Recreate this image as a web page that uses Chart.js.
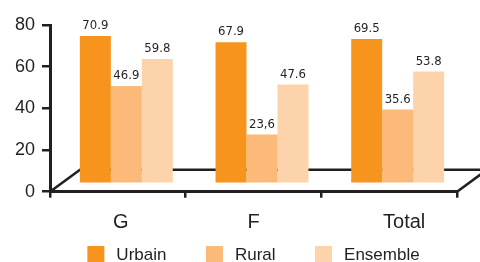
<!DOCTYPE html>
<html>
<head>
<meta charset="utf-8">
<script src="https://cdn.jsdelivr.net/npm/chart.js@4.4.1/dist/chart.umd.min.js"></script>
<style>
  html, body { margin: 0; padding: 0; background: #fff; }
  #wrap { width: 480px; height: 262px; position: relative; }
</style>
</head>
<body>
<div id="wrap"><canvas id="chart"></canvas></div>
<script>
// Categories and series (percent)
const categories = ['G', 'F', 'Total'];
const urbain = [70.9, 67.9, 69.5];
const rural = [46.9, 23.6, 35.6];
const ensemble = [59.8, 47.6, 53.8];

// Labels printed above the bars (the source prints "23,6" with a comma)
const urbainText = ['70.9', '67.9', '69.5'];
const ruralText = ['46.9', '23,6', '35.6'];
const ensembleText = ['59.8', '47.6', '53.8'];

const yTicks = [0, 20, 40, 60, 80];

const ink = '#231f20';
const colors = {
  Urbain: '#f7941d',
  Rural: '#fbb97a',
  Ensemble: '#fcd3aa'
};

// Bars stand in the middle of the floor: a bit back and to the right
const depthShift = { x: 8.5, y: -8 };
const floorDepth = { x: 30, y: -22 };
// category names are not quite centred in the source
const labelNudge = [3, 0, 15];

const shownText = [urbainText, ruralText, ensembleText];

const floorPlugin = {
  id: 'floor',
  beforeDatasetsDraw(chart) {
    const { ctx, chartArea } = chart;
    const y0 = chart.scales.y.getPixelForValue(0);
    const x0 = chartArea.left;
    const x1 = chartArea.right;

    ctx.save();
    ctx.strokeStyle = ink;
    ctx.lineWidth = 2.5;
    ctx.beginPath();
    ctx.moveTo(x0, y0);
    ctx.lineTo(x0 + floorDepth.x, y0 + floorDepth.y);
    ctx.lineTo(x1 + floorDepth.x, y0 + floorDepth.y);
    ctx.lineTo(x1, y0);
    ctx.stroke();
    ctx.restore();

    // shift the bars onto the floor
    ctx.save();
    ctx.translate(depthShift.x, depthShift.y);
  },
  afterDatasetsDraw(chart) {
    const ctx = chart.ctx;
    ctx.fillStyle = ink;
    ctx.font = '13px "DejaVu Sans Condensed", "DejaVu Sans", sans-serif';
    ctx.textAlign = 'center';
    ctx.textBaseline = 'alphabetic';
    chart.data.datasets.forEach((ds, d) => {
      const meta = chart.getDatasetMeta(d);
      meta.data.forEach((bar, i) => {
        ctx.fillText(shownText[d][i], bar.x, bar.y - 7);
      });
    });
    ctx.restore();
  },
  afterDraw(chart) {
    const { ctx, chartArea } = chart;
    const xScale = chart.scales.x;

    // category names
    ctx.save();
    ctx.fillStyle = ink;
    ctx.font = '20px "Liberation Sans", Arial, sans-serif';
    ctx.textAlign = 'center';
    ctx.textBaseline = 'alphabetic';
    categories.forEach((c, i) => {
      ctx.fillText(c, xScale.getPixelForValue(i) + labelNudge[i], 227.5);
    });

    // legend, centred under the plot
    ctx.font = '17px "Liberation Sans", Arial, sans-serif';
    ctx.textAlign = 'left';
    const box = 17, gapText = 12, gapItem = 39.5;
    const items = chart.data.datasets.map(ds => ({
      label: ds.label,
      color: ds.backgroundColor,
      w: box + gapText + ctx.measureText(ds.label).width
    }));
    const total = items.reduce((s, it) => s + it.w, 0) + gapItem * (items.length - 1);
    let x = (chartArea.left + chartArea.right) / 2 - total / 2;
    items.forEach(it => {
      ctx.fillStyle = it.color;
      ctx.fillRect(x, 246, box, box);
      ctx.fillStyle = ink;
      ctx.fillText(it.label, x + box + gapText, 259.5);
      x += it.w + gapItem;
    });
    ctx.restore();
  }
};

const ctx = document.getElementById('chart').getContext('2d');
const chart = new Chart(ctx, {
  type: 'bar',
  data: {
    labels: categories,
    datasets: [
      { label: 'Urbain', data: urbain, backgroundColor: colors.Urbain },
      { label: 'Rural', data: rural, backgroundColor: colors.Rural },
      { label: 'Ensemble', data: ensemble, backgroundColor: colors.Ensemble }
    ]
  },
  options: {
    responsive: true,
    maintainAspectRatio: false,
    animation: false,
    layout: { padding: { top: 25, right: 23, left: 0, bottom: 0 } },
    datasets: {
      bar: {
        barPercentage: 1,
        categoryPercentage: 0.685,
        borderWidth: 0,
        clip: false
      }
    },
    scales: {
      x: {
        ticks: { display: false },
        grid: {
          offset: true,
          drawOnChartArea: false,
          tickLength: 6,
          lineWidth: 2.5,
          color: ink
        },
        border: { width: 3, color: ink },
        afterFit: s => { s.height = 70.3; }
      },
      y: {
        min: 0,
        max: 80,
        afterBuildTicks: s => { s.ticks = yTicks.map(v => ({ value: v })); },
        ticks: {
          color: ink,
          padding: 7,
          font: { family: '"Liberation Sans", Arial, sans-serif', size: 18 }
        },
        grid: {
          drawOnChartArea: false,
          tickLength: 8,
          lineWidth: 2.5,
          color: ink
        },
        border: { width: 3, color: ink },
        afterFit: s => { s.width = 50; }
      }
    },
    plugins: {
      legend: { display: false },
      tooltip: { enabled: false }
    }
  },
  plugins: [floorPlugin]
});
</script>
</body>
</html>
